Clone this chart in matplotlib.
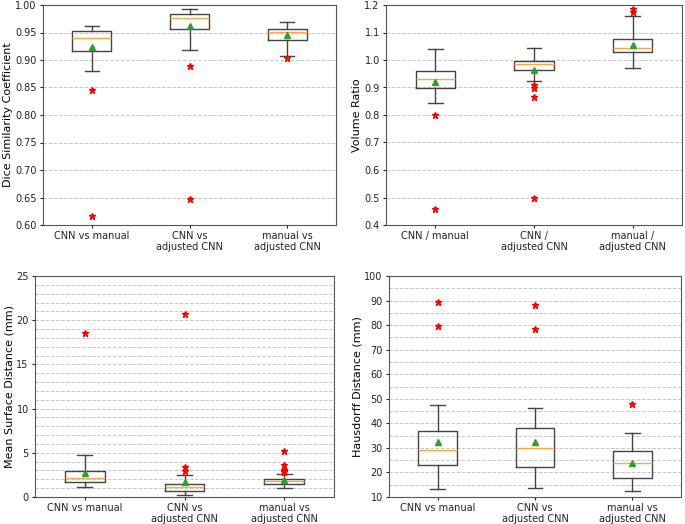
import matplotlib
matplotlib.use("Agg")
from matplotlib import pyplot as plt
from matplotlib.ticker import MultipleLocator, FormatStrFormatter

plt.rcParams.update({'font.size': 7, 'font.family': 'DejaVu Sans'})

# x labels
labels_vs = ['CNN vs manual', 'CNN vs\nadjusted CNN', 'manual vs\nadjusted CNN']
labels_ratio = ['CNN / manual', 'CNN /\nadjusted CNN', 'manual /\nadjusted CNN']

# Dice similarity coefficient
dsc_whislo = [0.880, 0.918, 0.908]
dsc_q1 = [0.917, 0.957, 0.937]
dsc_med = [0.940, 0.977, 0.951]
dsc_q3 = [0.952, 0.983, 0.957]
dsc_whishi = [0.961, 0.993, 0.969]
dsc_mean = [0.924, 0.961, 0.946]
dsc_fliers = [[0.845, 0.616], [0.890, 0.648], [0.904]]

# Volume ratio
vr_whislo = [0.845, 0.922, 0.972]
vr_q1 = [0.900, 0.964, 1.028]
vr_med = [0.931, 0.986, 1.043]
vr_q3 = [0.961, 0.998, 1.078]
vr_whishi = [1.039, 1.043, 1.159]
vr_mean = [0.919, 0.965, 1.055]
vr_fliers = [[0.800, 0.457], [0.908, 0.898, 0.866, 0.500], [1.184, 1.173]]

# Mean surface distance (mm)
msd_whislo = [1.17, 0.23, 0.98]
msd_q1 = [1.69, 0.64, 1.50]
msd_med = [2.14, 1.09, 1.77]
msd_q3 = [2.97, 1.47, 2.07]
msd_whishi = [4.77, 2.48, 2.59]
msd_mean = [2.71, 1.65, 1.95]
msd_fliers = [[18.57], [3.42, 2.97, 20.75], [5.23, 3.61, 3.08, 2.82, 2.95]]

# Hausdorff distance (mm)
hd_whislo = [13.2, 13.8, 12.6]
hd_q1 = [23.1, 22.2, 17.6]
hd_med = [29.2, 29.9, 23.8]
hd_q3 = [36.8, 38.3, 28.9]
hd_whishi = [47.5, 46.4, 36.1]
hd_mean = [32.3, 32.3, 23.8]
hd_fliers = [[89.3, 79.7], [88.1, 78.6], [48.0]]


def make_stats(lo, q1, med, q3, hi, mean, fliers):
    stats = []
    for i in range(len(med)):
        stats.append({'whislo': lo[i], 'q1': q1[i], 'med': med[i], 'q3': q3[i],
                      'whishi': hi[i], 'mean': mean[i], 'fliers': fliers[i]})
    return stats


def draw_box(ax, stats, labels, ylabel, ylim, major, minor=None):
    ax.bxp(stats, widths=0.4, capwidths=0.15, showmeans=True,
           boxprops=dict(color='#444444', linewidth=1.0),
           whiskerprops=dict(color='#444444', linewidth=1.0),
           capprops=dict(color='#444444', linewidth=1.0),
           medianprops=dict(color='#ffa64d', linewidth=1.0),
           meanprops=dict(marker='^', markerfacecolor='#2ca02c', markeredgecolor='#2ca02c', markersize=5),
           flierprops=dict(marker='*', markerfacecolor='red', markeredgecolor='red', markersize=5))
    ax.set_xticks([1, 2, 3])
    ax.set_xticklabels(labels, linespacing=1.15)
    ax.set_ylim(ylim)
    ax.yaxis.set_major_locator(MultipleLocator(major))
    ax.set_ylabel(ylabel, fontsize=8, labelpad=1.5)
    ax.grid(axis='y', which='major', linestyle='--', color='#c8c8c8', linewidth=0.7)
    if minor is not None:
        ax.yaxis.set_minor_locator(MultipleLocator(minor))
        ax.grid(axis='y', which='minor', linestyle='--', color='#c8c8c8', linewidth=0.7)
        ax.tick_params(axis='y', which='minor', length=0)
    ax.set_axisbelow(True)
    for s in ax.spines.values():
        s.set_color('#555555')
    ax.tick_params(which='major', length=2.5, pad=2, colors='#222222')


fig = plt.figure(figsize=(6.85, 5.24), dpi=100)
ax1 = fig.add_axes([43 / 685, 1 - 225 / 524, 293 / 685, 220 / 524])
ax2 = fig.add_axes([386 / 685, 1 - 225 / 524, 296 / 685, 220 / 524])
ax3 = fig.add_axes([35 / 685, 1 - 497 / 524, 299 / 685, 221 / 524])
ax4 = fig.add_axes([389 / 685, 1 - 497 / 524, 292 / 685, 221 / 524])

draw_box(ax1, make_stats(dsc_whislo, dsc_q1, dsc_med, dsc_q3, dsc_whishi, dsc_mean, dsc_fliers),
         labels_vs, 'Dice Similarity Coefficient', (0.60, 1.00), 0.05)
ax1.yaxis.set_major_formatter(FormatStrFormatter('%.2f'))
draw_box(ax2, make_stats(vr_whislo, vr_q1, vr_med, vr_q3, vr_whishi, vr_mean, vr_fliers),
         labels_ratio, 'Volume Ratio', (0.4, 1.2), 0.1)
draw_box(ax3, make_stats(msd_whislo, msd_q1, msd_med, msd_q3, msd_whishi, msd_mean, msd_fliers),
         labels_vs, 'Mean Surface Distance (mm)', (0, 25), 5, 1)
draw_box(ax4, make_stats(hd_whislo, hd_q1, hd_med, hd_q3, hd_whishi, hd_mean, hd_fliers),
         labels_vs, 'Hausdorff Distance (mm)', (10, 100), 10, 5)

plt.savefig('out.png', dpi=100)
